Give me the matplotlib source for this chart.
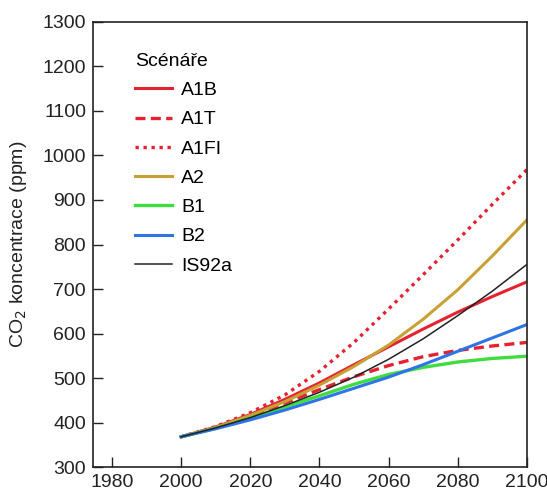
import matplotlib
matplotlib.use("Agg")
import matplotlib.pyplot as plt

plt.rcParams["font.family"] = ["Liberation Sans", "DejaVu Sans"]

years = [2000, 2010, 2020, 2030, 2040, 2050, 2060, 2070, 2080, 2090, 2100]

a1b = [368, 390, 418, 452, 489, 530, 570, 610, 648, 683, 716]
a1t = [368, 389, 415, 444, 474, 503, 528, 548, 562, 572, 580]
a1fi = [368, 391, 422, 462, 515, 580, 655, 732, 810, 890, 968]
a2 = [368, 389, 416, 447, 484, 526, 574, 632, 698, 774, 855]
b1 = [368, 387, 410, 435, 460, 486, 508, 524, 536, 544, 549]
b2 = [368, 386, 406, 428, 452, 477, 502, 530, 560, 590, 620]
is92a = [368, 388, 411, 438, 468, 502, 542, 588, 640, 695, 755]

labels = ["A1B", "A1T", "A1FI", "A2", "B1", "B2", "IS92a"]
series = [a1b, a1t, a1fi, a2, b1, b2, is92a]
colors = ["#e52230", "#e52230", "#e52230", "#c9a034", "#3fdc3f", "#2f74e6", "#222222"]
styles = ["-", (0, (3, 1.6)), (0, (1, 1.4)), "-", "-", "-", "-"]
widths = [2.2, 2.4, 2.4, 2.2, 2.4, 2.2, 1.1]

xticks = [1980, 2000, 2020, 2040, 2060, 2080, 2100]
yticks = [300, 400, 500, 600, 700, 800, 900, 1000, 1100, 1200, 1300]

fig = plt.figure(figsize=(5.47, 4.99), dpi=100)
ax = fig.add_axes([0.170, 0.064, 0.793, 0.892])

for lab, vals, c, ls, lw in zip(labels, series, colors, styles, widths):
    ax.plot(years, vals, color=c, ls=ls, lw=lw, label=lab)

ax.set_xlim(1974.5, 2100)
ax.set_ylim(300, 1300)
ax.set_xticks(xticks)
ax.set_yticks(yticks)
ax.tick_params(direction="in", length=7, width=1.0, labelsize=14,
               colors="#222222", pad=5)
for s in ax.spines.values():
    s.set_linewidth(1.2)
    s.set_color("#222222")

ax.set_ylabel("CO$_2$ koncentrace (ppm)", fontsize=14, color="#222222", labelpad=10)

leg = ax.legend(title="Scénáře", loc="upper left", bbox_to_anchor=(0.056, 0.97),
                frameon=False, fontsize=14, title_fontsize=14, handlelength=1.9,
                handletextpad=0.5, labelspacing=0.6, alignment="left")

fig.savefig("out.png", dpi=100)
